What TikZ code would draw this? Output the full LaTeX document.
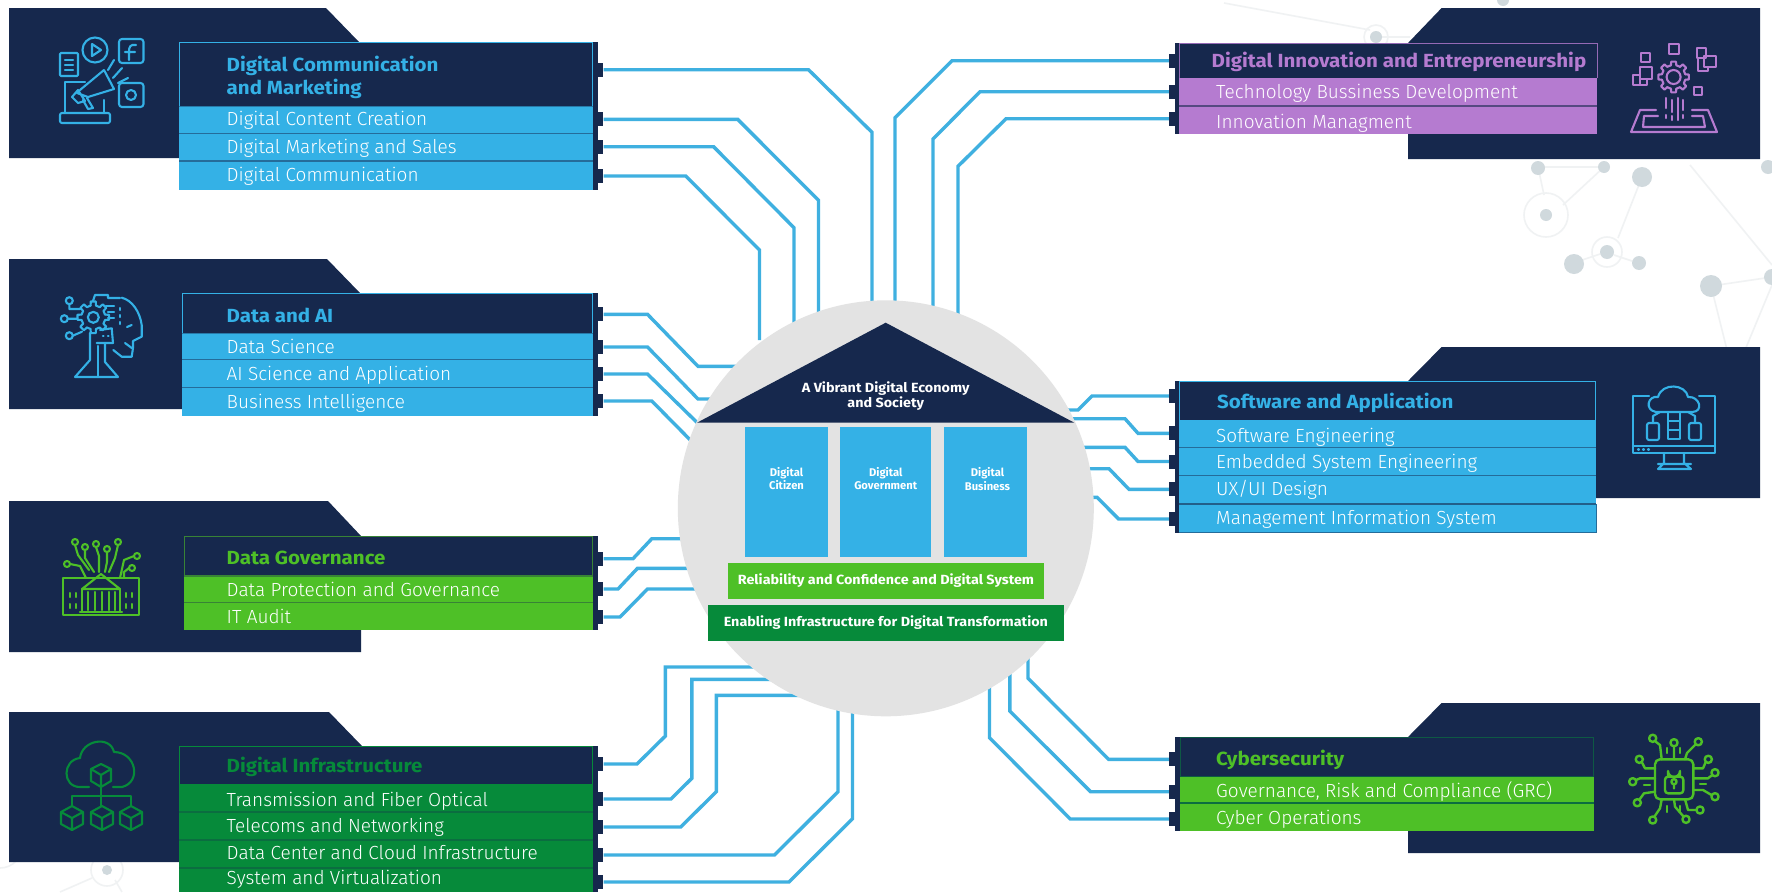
\documentclass[tikz,border=0pt]{standalone}
\usepackage{fontspec}
\setmainfont{Fira Sans}
\newfontfamily\hdf[FakeStretch=1.08]{Fira Sans}
\newfontfamily\rowf{Fira Sans Light}
\definecolor{navy}{HTML}{16284D}
\definecolor{skyb}{HTML}{34B1E6}
\definecolor{lime}{HTML}{4EC027}
\definecolor{forest}{HTML}{068A3A}
\definecolor{violet}{HTML}{B57BD0}
\definecolor{wirec}{HTML}{3FB0E0}
\definecolor{hubc}{HTML}{E3E3E3}
\definecolor{netd}{HTML}{D0D9DD}
\definecolor{netl}{HTML}{F0F2F3}
\tikzset{
 x=1pt,y=-1pt,
 wire/.style={draw=wirec,line width=3.4pt,line join=miter},
 tabn/.style={fill=navy,draw=none,minimum width=5.5pt,minimum height=14pt,inner sep=0pt,rectangle},
 rowt/.style={text=white,font=\rowf\fontsize{19}{20}\selectfont,inner sep=0pt,anchor=west},
 headt/.style={font=\hdf\fontsize{19}{22.5}\bfseries\selectfont,inner sep=0pt,anchor=west,align=left},
 hubt/.style={text=white,inner sep=0pt,align=center,font=\fontsize{11.2}{13.6}\bfseries\selectfont},
 hubw/.style={text=white,inner sep=0pt,align=center,font=\hdf\fontsize{13.3}{15.5}\bfseries\selectfont},
 pic1/.style={line width=2.1pt,line cap=round,line join=round,fill=none},
 netline/.style={draw=netl,line width=1.6pt},
}
\newcommand{\rpanel}[3]{\fill[navy] (1760,#1)--(1441.6,#1)--(1408,#2)--(1408,#3)--(1760,#3)--cycle;}
% row x0,y0,x1,y1,colour,divider (divider along the row's top edge)
\newcommand{\rowfill}[6]{\fill[#5] (#1,#2) rectangle (#3,#4); \draw[#6,line width=1.1pt] (#1,#2)--(#3,#2);}
% gear: cx,cy,inner radius,outer radius
\newcommand{\gearico}[4]{\begin{scope}[shift={(#1,#2)}]\foreach \a in {0,45,...,315}{\draw (\a-13:#3)--(\a-9:#4)--(\a+9:#4)--(\a+13:#3)--(\a+32:#3);}\end{scope}}
\begin{document}
\begin{tikzpicture}
\useasboundingbox (0,0) rectangle (1772,892);
\fill[white] (0,0) rectangle (1772,892);

% background network
\begin{scope}
\draw[netline] (1224,3)--(1370,30) (1604,167)--(1563,205) (1538,167)--(1544,195) (1642,177)--(1618,238)
 (1690,165)--(1772,265) (1711,286)--(1772,277) (1711,286)--(1727,350) (1772,285)--(1745,350)
 (1582,260)--(1600,254) (1614,255)--(1632,261) (1376,37)--(1410,37) (1538,167)--(1604,167)
 (60,892)--(92,878) (115,880)--(122,892);
\draw[netl,line width=1.6pt] (1546,215) circle[radius=22] (1607,252) circle[radius=15] (1376,37) circle[radius=12] (107,870) circle[radius=16];
\draw[netl,line width=1.6pt] (0,868) arc[start angle=90,end angle=0,radius=22];
\fill[netd] (1538,168) circle[radius=7] (1604,167) circle[radius=6] (1642,177) circle[radius=10]
 (1546,215) circle[radius=6] (1607,252) circle[radius=7] (1574,264) circle[radius=10] (1639,263) circle[radius=7]
 (1711,286) circle[radius=11] (1772,277) circle[radius=8] (1768,167) circle[radius=7] (1376,37) circle[radius=6]
 (1503,0) circle[radius=6] (107,870) circle[radius=5];
\end{scope}

% panels
\fill[navy] (9,8)--(326,8)--(359,42)--(359,158)--(9,158)--cycle;
\fill[navy] (9,259)--(327,259)--(360,293)--(360,409)--(9,409)--cycle;
\fill[navy] (9,501)--(328,501)--(361,536)--(361,652)--(9,652)--cycle;
\fill[navy] (9,712)--(329,712)--(362,746)--(362,862)--(9,862)--cycle;
\rpanel{8}{43}{159}
\rpanel{347}{381}{498}
\rpanel{703}{737}{853}

% ---------- left boxes ----------
% Digital Communication
\fill[navy] (179,41.7) rectangle (598,190);
\draw[skyb,line width=1pt] (179.5,106) |- (592.5,42.2) -- (592.5,106);
\rowfill{179}{106.7}{593}{133.3}{skyb}{navy!40!skyb}
\rowfill{179}{133.3}{593}{161}{skyb}{navy!50!skyb}
\rowfill{179}{161}{593}{190}{skyb}{navy!50!skyb}
\node[headt,text=skyb] (h1) at (226.5,77.5) {Digital Communication\\and Marketing};
\node[rowt] (r11) at (226.5,120) {Digital Content Creation};
\node[rowt] (r12) at (226.5,148.5) {Digital Marketing and Sales};
\node[rowt] (r13) at (226.5,176) {Digital Communication};
% Data and AI
\fill[navy] (182,293.3) rectangle (598,415.7);
\draw[skyb,line width=1pt] (182.5,333) |- (592.5,293.8) -- (592.5,333);
\rowfill{182}{333.3}{593}{359.3}{skyb}{navy!40!skyb}
\rowfill{182}{359.3}{593}{387.3}{skyb}{navy!50!skyb}
\rowfill{182}{387.3}{593}{415.7}{skyb}{navy!50!skyb}
\node[headt,text=skyb] (h2) at (226.5,315) {Data and AI};
\node[rowt] (r21) at (226.5,346.5) {Data Science};
\node[rowt] (r22) at (226.5,375.5) {AI Science and Application};
\node[rowt] (r23) at (226.5,403) {Business Intelligence};
% Data Governance
\fill[navy] (183.5,536) rectangle (598,630);
\draw[lime!60!navy,line width=1pt] (184,576) |- (592.5,536.5) -- (592.5,576);
\rowfill{183.5}{576}{593}{602.3}{lime}{lime!60!navy}
\rowfill{183.5}{602.3}{593}{630}{lime}{lime!60!navy}
\node[headt,text=lime] (h3) at (226.5,558) {Data Governance};
\node[rowt] (r31) at (226.5,589) {Data Protection and Governance};
\node[rowt] (r32) at (226.5,616.5) {IT Audit};
% Digital Infrastructure
\fill[navy] (179,746) rectangle (598,892);
\draw[forest,line width=1pt] (179.5,785) |- (592.5,746.5) -- (592.5,785);
\rowfill{179}{785}{593}{812}{forest}{forest}
\rowfill{179}{812}{593}{840}{forest}{forest!70!navy}
\rowfill{179}{840}{593}{868}{forest}{forest!70!navy}
\rowfill{179}{868}{593}{892}{forest}{forest!70!navy}
\node[headt,text=forest] (h4) at (226.5,767) {Digital Infrastructure};
\node[rowt] (r41) at (226.5,801) {Transmission and Fiber Optical};
\node[rowt] (r42) at (226.5,827) {Telecoms and Networking};
\node[rowt] (r43) at (226.5,853) {Data Center and Cloud Infrastructure};
\node[rowt] (r44) at (226.5,879) {System and Virtualization};

% ---------- right boxes ----------
% Innovation
\fill[navy] (1174.6,42.7) rectangle (1598,134.3);
\draw[violet!80!navy,line width=1pt] (1179.5,78) |- (1597.5,43.2) -- (1597.5,78);
\rowfill{1179}{78.3}{1597}{106}{violet}{violet}
\rowfill{1179}{106}{1597}{134.3}{violet}{navy!60!violet}
\node[headt,text=violet] (h5) at (1211.5,61.5) {Digital Innovation and Entrepreneurship};
\node[rowt] (r51) at (1216,93.5) {Technology Bussiness Development};
\node[rowt] (r52) at (1216,123) {Innovation Managment};
% Software
\fill[navy] (1174.6,381) rectangle (1596,532.7);
\draw[skyb,line width=1pt] (1179.5,421) |- (1595.5,381.5) -- (1595.5,421);
\rowfill{1179}{421}{1596}{447.3}{skyb}{skyb}
\rowfill{1179}{447.3}{1596}{475.3}{skyb}{navy!50!skyb}
\rowfill{1179}{475.3}{1596}{504}{skyb}{navy!50!skyb}
\rowfill{1179}{504}{1596}{532.7}{skyb}{navy!60!skyb}
\draw[navy!50!skyb,line width=1pt] (1179,532.5)--(1596,532.5)--(1596,504);
\node[headt,text=skyb] (h6) at (1217,402.5) {Software and Application};
\node[rowt] (r61) at (1216,437) {Software Engineering};
\node[rowt] (r62) at (1216,463) {Embedded System Engineering};
\node[rowt] (r63) at (1216,490) {UX/UI Design};
\node[rowt] (r64) at (1216,519) {Management Information System};
% Cybersecurity
\fill[navy] (1174.6,736.7) rectangle (1594,830.7);
\draw[forest!50!navy,line width=1pt] (1180,776.7) |- (1593.5,737.2) -- (1593.5,776.7);
\rowfill{1180}{776.7}{1594}{803}{lime}{forest!50!navy}
\rowfill{1180}{803}{1594}{830.7}{lime}{forest!70!navy}
\node[headt,text=lime] (h7) at (1216,759.5) {Cybersecurity};
\node[rowt] (r71) at (1216,791.5) {Governance, Risk and Compliance (GRC)};
\node[rowt] (r72) at (1216,819) {Cyber Operations};

% tabs
\foreach \n/\y in {a1/69.7,a2/119.3,a3/146.7,a4/176,b1/314.3,b2/347,b3/374,b4/401,c1/558.7,c2/589,c3/617,d1/764,d2/799,d3/827,d4/855,d5/882}
 \node[tabn] (\n) at (600.7,\y) {};
\foreach \n/\y in {e1/60.7,e2/91.7,e3/118.7,f1/396,f2/433.3,f3/461.5,f4/489.3,f5/519,g1/759.3,g2/791.7,g3/819}
 \node[tabn] (\n) at (1171.8,\y) {};

% free ends under the hub
\foreach \n/\x/\y in {za1/872/340,za2/818.5/340,za3/794/340,za4/759.5/340,zb1/770/366.3,zb2/750/399,zb3/720/445,zb4/710/460,
 zc1/710/538.7,zc2/710/568.3,zc3/710/589,zd1/760/667,zd2/780/679.3,zd3/800/695.3,zd4/838/690,zd5/852.5/690,
 ze1/895/340,ze2/933/340,ze3/958/340,zf1/1050/410,zf2/1050/418.7,zf3/1050/447.3,zf4/1050/468.7,zf5/1050/497.3,
 zg1/1028/650,zg2/1009.8/660,zg3/989.5/680}
 \coordinate (\n) at (\x,\y);

% connectors
\draw[wire] (a1.east)--(808.5,69.7)--(872,132.3)--(za1);
\draw[wire] (a2.east)--(737.7,119.3)--(818.5,200.3)--(za2);
\draw[wire] (a3.east)--(713.6,146.7)--(794,227.7)--(za3);
\draw[wire] (a4.east)--(685.7,176)--(759.5,250)--(za4);
\draw[wire] (b1.east)--(647.5,314.3)--(698,366.3)--(zb1);
\draw[wire] (b2.east)--(647.5,347)--(698,399)--(zb2);
\draw[wire] (b3.east)--(647.5,374)--(zb3);
\draw[wire] (b4.east)--(651.8,401)--(zb4);
\draw[wire] (c1.east)--(633,558.7)--(651.8,538.7)--(zc1);
\draw[wire] (c2.east)--(618,589)--(637.5,568.3)--(zc2);
\draw[wire] (c3.east)--(620,617)--(647.5,589)--(zc3);
\draw[wire] (d1.east)--(637,764)--(665.4,736)--(665.4,667)--(zd1);
\draw[wire] (d2.east)--(671,799)--(691.8,778.3)--(691.8,679.3)--(zd2);
\draw[wire] (d3.east)--(680.7,827)--(716.3,791.7)--(716.3,695.3)--(zd3);
\draw[wire] (d4.east)--(774.5,855)--(838,791.7)--(zd4);
\draw[wire] (d5.east)--(789,882)--(852.5,818.7)--(zd5);
\draw[wire] (e1.west)--(952,60.7)--(895,117.7)--(ze1);
\draw[wire] (e2.west)--(980,91.7)--(933,139)--(ze2);
\draw[wire] (e3.west)--(1006,118.7)--(958,166.3)--(ze3);
\draw[wire] (f1.west)--(1092,396)--(1077.9,410)--(zf1);
\draw[wire] (f2.west)--(1138,433.3)--(1125,418.7)--(zf2);
\draw[wire] (f3.west)--(1138,461.5)--(1125,447.3)--(zf3);
\draw[wire] (f4.west)--(1129,489.3)--(1109,468.7)--(zf4);
\draw[wire] (f5.west)--(1118.6,519)--(1097,497.3)--(zf5);
\draw[wire] (g1.west)--(1108.6,759.3)--(1028,678.3)--(zg1);
\draw[wire] (g2.west)--(1090.6,791.7)--(1009.8,711)--(zg2);
\draw[wire] (g3.west)--(1070.3,819)--(989.5,737.7)--(zg3);

% hub
\node[circle,fill=hubc,minimum size=416pt,inner sep=0pt] (hub) at (885.8,508.3) {};
\fill[navy] (885.7,322.7)--(1074.3,422.7)--(697,422.7)--cycle;
\node[hubw] (roof) at (885.7,396) {A Vibrant Digital Economy\\and Society};
\fill[skyb] (745,427.3) rectangle (827.9,556.7);
\fill[skyb] (840.4,427.3) rectangle (931.4,556.7);
\fill[skyb] (943.6,427.3) rectangle (1026.8,556.7);
\node[hubt] (p1) at (786.5,478.5) {Digital\\Citizen};
\node[hubt] (p2) at (885.7,478.5) {Digital\\Government};
\node[hubt] (p3) at (987.5,479) {Digital\\Business};
\node[rectangle,fill=lime,minimum width=316pt,minimum height=35.4pt,hubw] (rel) at (886,581) {Reliability and Confidence and Digital System};
\node[rectangle,fill=forest,minimum width=356pt,minimum height=36pt,hubw] (ena) at (885.9,622.7) {Enabling Infrastructure for Digital Transformation};

% ---------- icons ----------
% megaphone
\begin{scope}[pic1,draw=skyb]
\draw[rounded corners=1pt] (60,53) rectangle (78,76);
\draw (65,60)--(73,60) (65,65)--(73,65) (65,70)--(73,70);
\draw (95,50) circle[radius=12.5];
\draw (92,44)--(101,50)--(92,56)--cycle;
\draw[rounded corners=3pt] (119,39) rectangle (143.5,63);
\draw (136,45) .. controls (130,44) and (129,47) .. (129,52) -- (129,60) (125,52)--(135,52);
\draw[rounded corners=3pt] (119,83) rectangle (143.5,107);
\draw (131,95) circle[radius=5];
\draw (85,82)--(65,82)--(65,113) (104,100)--(104,113);
\draw[rounded corners=2pt] (60,113) rectangle (110,123);
\draw (104,70)--(114,89)--(88,97)--(77,93) (104,70)--(80,90) (72,97)--(78,90)--(85,101)--(78,103)--cycle;
\draw (87,98)--(93,108)--(88,109)--(83,100);
\draw (108,70)--(114,60) (113,78)--(122,68) (118,83)--(128,78);
\end{scope}
% AI head
\begin{scope}[pic1,draw=skyb]
\draw (93.3,317.3) circle[radius=5.5];
\gearico{93.3}{317.3}{12}{16}
\draw (93,301)--(95,295)--(108,295)--(108,298)--(120,298);
\draw (121.7,297.7) .. controls (132,300) and (140,312) .. (141.7,325)--(141.7,336.7)--(133,341)--(133,348)--(131.7,356.7)--(121.7,356.7)--(113.3,350);
\draw (120,308)--(120,310) (120,315)--(120,317) (120,322)--(120,324);
\draw (131.7,325)--(127,327) (125,343)--(131.7,348);
\draw (108,312)--(114,312) (108,318)--(114,318) (106,306)--(114,306);
\draw (100,330)--(111.7,328.3)--(113,343)--(96.7,343);
\draw (103,336)--(103.5,336) (108,336)--(108.5,336);
\draw (69.3,304)--(69.3,309)--(80,309) (67.8,318.7)--(77,318.7) (72.8,335.7)--(82,331.7);
\draw (69.3,300.7) circle[radius=3.5] (64.3,318.7) circle[radius=3.5] (69.3,335.7) circle[radius=3.5];
\draw (90,333)--(90,360)--(75,377)--(118,377)--(105,362)--(105,343);
\draw (98,346)--(98,377) (90,355)--(90,356) (90,350)--(90,351);
\end{scope}
% building
\begin{scope}[pic1,draw=lime]
\draw (63,578)--(63,615)--(139,615)--(139,578)--(63,578);
\draw (82,589)--(101,574)--(120,589)--cycle;
\draw (82,589)--(82,612) (120,589)--(120,612) (88,592)--(88,610) (95,592)--(95,610) (102,592)--(102,610) (109,592)--(109,610) (115,592)--(115,610);
\draw (80,612)--(122,612);
\foreach \p in {70,76,126,132} \draw (\p,593)--(\p,597) (\p,604)--(\p,608);
\draw (75,542) circle[radius=3] (85,547) circle[radius=3] (96,544) circle[radius=3] (107,549) circle[radius=3] (118,542) circle[radius=3]
 (67,564) circle[radius=3] (137,556) circle[radius=3] (132,568) circle[radius=3];
\draw (75,545)--(78,555)--(89,570) (85,550)--(85,558)--(94,572) (96,547)--(99,556)--(99,572) (107,552)--(107,562)--(105,572) (118,545)--(115,558)--(109,572)
 (70,564)--(80,566)--(86,578) (134,556)--(124,560)--(120,578) (129,568)--(124,572)--(124,578);
\end{scope}
% cloud
\begin{scope}[pic1,draw=forest]
\draw (89,787)--(80,787) .. controls (62,787) and (62,760) .. (80,758) .. controls (82,740) and (110,735) .. (114,752) .. controls (136,752) and (142,782) .. (122,787)--(113,787);
\draw (101,764)--(111,769)--(111,781)--(101,787)--(91,781)--(91,769)--cycle (91,769)--(101,775)--(111,769) (101,775)--(101,787);
\draw (101,787)--(101,806) (72,806)--(72,796)--(131,796)--(131,806);
\foreach \c in {72,102,131} {
 \draw (\c,806)--(\c+11,812)--(\c+11,824)--(\c,830)--(\c-11,824)--(\c-11,812)--cycle (\c-11,812)--(\c,818)--(\c+11,812) (\c,818)--(\c,830);
}
\end{scope}
% innovation
\begin{scope}[pic1,draw=violet]
\draw (1673.6,77) circle[radius=7];
\gearico{1673.6}{77}{12}{15.5}
\draw (1641,53) rectangle (1650,62) (1669,44) rectangle (1679,54) (1694,87) rectangle (1702,95);
\draw (1640,67) rectangle (1652,79) (1633,75) rectangle (1640,85) -- (1647,85)--(1647,79);
\draw (1697,48) rectangle (1706,58) (1704,56) rectangle (1716,67) (1698,58)--(1698,71)--(1708,71)--(1708,67);
\draw (1631,132)--(1717,132)--(1708,110)--(1692,110) (1631,132)--(1640,110)--(1656,110) (1643,127)--(1644,116)--(1658,116) (1705,127)--(1703,116)--(1692,116) (1643,127)--(1705,127);
\draw (1666,98)--(1666,108) (1672,100)--(1672,112) (1678,98)--(1678,120) (1683,100)--(1683,110) (1666,115)--(1666,118) (1672,116)--(1672,120) (1683,115)--(1683,118);
\end{scope}
% monitor
\begin{scope}[pic1,draw=skyb]
\draw (1649,396)--(1633,396)--(1633,453)--(1715,453)--(1715,396)--(1699,396);
\draw (1633,446)--(1715,446);
\draw (1664,453)--(1664,463)--(1658,469)--(1691,469)--(1684,463)--(1684,453) (1658,464)--(1691,464);
\draw (1656,412) .. controls (1644,410) and (1648,395) .. (1658,397) .. controls (1662,382) and (1686,384) .. (1688,397) .. controls (1700,396) and (1704,412) .. (1692,412)--cycle;
\draw[rounded corners=2pt] (1647,423) rectangle (1659,440) (1689,423) rectangle (1701,440);
\draw (1668,412) rectangle (1680,439) (1668,421)--(1680,421) (1668,430)--(1680,430);
\draw (1653,423)--(1653,416)--(1660,412) (1695,423)--(1695,416)--(1688,412);
\draw (1638,449.5)--(1639,449.5) (1643,449.5)--(1644,449.5) (1648,449.5)--(1649,449.5);
\end{scope}
% chip
\begin{scope}[pic1,draw=lime,line width=2.4pt]
\draw[rounded corners=5pt] (1655,759.3) rectangle (1693.3,799.3);
\draw[rounded corners=3pt] (1665,776.7) rectangle (1683.3,793.3);
\draw (1668,776.7)--(1668,771) arc[start angle=180,end angle=0,radius=6]--(1680,776.7);
\draw (1674,781.7) circle[radius=2.6] (1674,784.3)--(1674,788.5);
\draw (1655.5,741.5)--(1660,745)--(1661.7,759.3) (1674,746.5)--(1674,759.3) (1695.5,744.5)--(1687,753)--(1685,759.3)
 (1642,762.5)--(1645,768.3)--(1655,768.3) (1705.5,762.5)--(1703,768.3)--(1693.3,768.3) (1712.3,775)--(1708,778.3)--(1693.3,778.3)
 (1636,780)--(1640,778.3)--(1655,778.3) (1711.5,795)--(1703,790)--(1693.3,790) (1639.5,799.5)--(1644,793.3)--(1655,791.7)
 (1696,810)--(1688,810)--(1685,799.3) (1654.5,816.5)--(1660,808.3)--(1661.7,799.3) (1683.5,816.5)--(1675,806.7)--(1674,799.3);
\draw (1652.7,738.3) circle[radius=3.6] (1674,742.7) circle[radius=3.6] (1698.3,741.7) circle[radius=3.6] (1639.3,759.3) circle[radius=3.6]
 (1708.3,759.3) circle[radius=3.6] (1715,772.7) circle[radius=3.6] (1632.7,781.7) circle[radius=3.6] (1715,796.7) circle[radius=3.6]
 (1637.3,802.7) circle[radius=3.6] (1700,810) circle[radius=3.6] (1652.7,820) circle[radius=3.6] (1686,819.3) circle[radius=3.6];
\draw (1667,748)--(1667,753) (1680,748)--(1680,753) (1667,806)--(1667,812) (1680,806)--(1680,812)
 (1700,784)--(1706,784) (1644,785)--(1650,785);
\end{scope}
\end{tikzpicture}
\end{document}
